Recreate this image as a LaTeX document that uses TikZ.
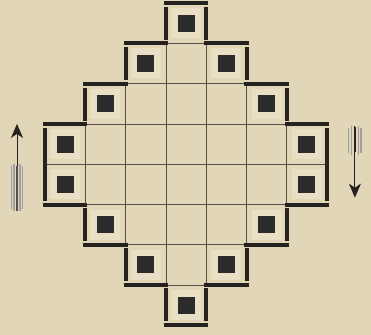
\documentclass[tikz,border=0pt]{standalone}
\usetikzlibrary{arrows.meta}
\definecolor{paper}{HTML}{E2D6B8}
\definecolor{halo}{HTML}{E9DFC5}
\definecolor{ink}{HTML}{26221F}
\definecolor{sqc}{HTML}{2B2B2C}
\definecolor{gridc}{HTML}{554E45}
\tikzset{
  bar/.style={line width=4pt, draw=ink},
  thin/.style={line width=0.8pt, draw=gridc},
  blk/.style={fill=sqc, minimum size=17pt, inner sep=0pt, draw=none},
  hl/.style={fill=halo, minimum size=30pt, inner sep=0pt, draw=none},
  shaft/.style={line width=0.9pt, draw=ink},
  feather/.style={line width=1.2pt, draw=gray!75},
}
\begin{document}
\begin{tikzpicture}[x=40.3pt,y=-40.3pt]
\fill[paper] (-1.1166,-0.0744) rectangle (8.0893,8.238);
\useasboundingbox (-1.1166,-0.0744) rectangle (8.0893,8.238);
% halos and black squares
\foreach \c/\r/\n in {3/0/a,2/1/b,4/1/c,1/2/d,5/2/e,0/3/f,6/3/g,0/4/h,6/4/i,1/5/j,5/5/k,2/6/l,4/6/m,3/7/n}{
  \node[hl] at (\c+0.5,\r+0.5) {};
  \node[blk] (sq\n) at (\c+0.5,\r+0.5) {};
}
% thin internal grid
\draw[thin] (3,1)--(4,1) (2,2)--(5,2) (1,3)--(6,3) (0,4)--(7,4)
            (1,5)--(6,5) (2,6)--(5,6) (3,7)--(4,7);
\draw[thin] (1,3)--(1,5) (2,2)--(2,6) (3,1)--(3,7) (4,1)--(4,7)
            (5,2)--(5,6) (6,3)--(6,5);
% thick outer bars
\draw[bar] (2.95,0)--(4.05,0) (3,0.1)--(3,0.93) (4,0.1)--(4,0.93);
\draw[bar] (1.95,1)--(3.05,1) (3.95,1)--(5.05,1) (2,1.1)--(2,1.92) (5,1.1)--(5,1.92);
\draw[bar] (0.95,2)--(2.05,2) (4.95,2)--(6.05,2) (1,2.1)--(1,2.92) (6,2.1)--(6,2.92);
\draw[bar] (-0.05,3)--(1.05,3) (5.95,3)--(7.05,3) (0,3.1)--(0,4.92) (7,3.1)--(7,4.92);
\draw[bar] (-0.05,5)--(1.05,5) (5.95,5)--(7.05,5);
\draw[bar] (1,5.08)--(1,5.9) (6,5.08)--(6,5.9) (0.95,6)--(2.05,6) (4.95,6)--(6.05,6);
\draw[bar] (2,6.08)--(2,6.9) (5,6.08)--(5,6.9) (1.95,7)--(3.05,7) (3.95,7)--(5.05,7);
\draw[bar] (3,7.08)--(3,7.9) (4,7.08)--(4,7.9) (2.95,8)--(4.05,8);
% left arrow (up)
\coordinate (lt) at (-0.695,5.17);
\coordinate (lh) at (-0.695,3.0);
\draw[feather] (-0.77,4.0)--(-0.77,5.17) (-0.62,4.0)--(-0.62,5.17) (-0.84,4.05)--(-0.84,5.12) (-0.55,4.05)--(-0.55,5.12);
\draw[shaft,-{Stealth[length=14pt,width=12pt,inset=4pt]}] (lt)--(lh);
\draw[line width=1.6pt,draw=ink!80] (-0.695,4.05)--(-0.695,5.15);
% right arrow (down)
\coordinate (rt) at (7.69,3.05);
\coordinate (rh) at (7.69,4.83);
\draw[feather] (7.61,3.05)--(7.61,3.78) (7.77,3.05)--(7.77,3.78) (7.54,3.1)--(7.54,3.72) (7.84,3.1)--(7.84,3.72);
\draw[shaft,-{Stealth[length=14pt,width=12pt,inset=4pt]}] (rt)--(rh);
\draw[line width=2pt,draw=ink] (7.69,3.08)--(7.69,3.7);
\end{tikzpicture}
\end{document}
